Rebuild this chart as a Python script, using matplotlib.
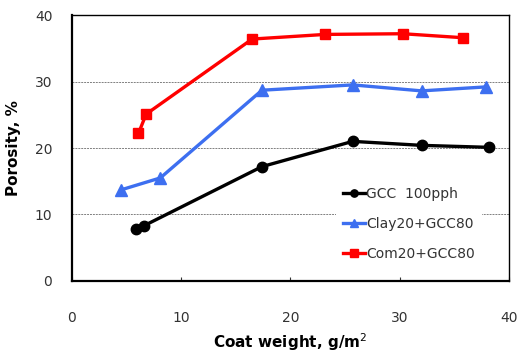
import matplotlib
matplotlib.use("Agg")
from matplotlib import pyplot as plt

# data
gcc_x = [5.9, 6.6, 17.4, 25.7, 32.0, 38.2]
gcc_y = [7.8, 8.3, 17.2, 21.0, 20.4, 20.1]

clay_x = [4.5, 8.1, 17.4, 25.7, 32.0, 37.9]
clay_y = [13.7, 15.5, 28.7, 29.5, 28.6, 29.2]

com_x = [6.1, 6.8, 16.5, 23.2, 30.3, 35.8]
com_y = [22.2, 25.1, 36.4, 37.1, 37.2, 36.6]

x_ticks = [0, 10, 20, 30, 40]
y_ticks = [0, 10, 20, 30, 40]

plt.rcParams['font.family'] = ['DejaVu Sans']

fig = plt.figure(figsize=(5.28, 3.52), dpi=100)
ax = fig.add_axes([0.136, 0.202, 0.828, 0.755])

ax.plot(gcc_x, gcc_y, color="black", marker="o", markersize=7.5, linewidth=2.4,
        label="GCC  100pph", zorder=3)
ax.plot(clay_x, clay_y, color="#3d6ff0", marker="^", markersize=8.5, linewidth=2.4,
        label="Clay20+GCC80", zorder=3)
ax.plot(com_x, com_y, color="#ff0000", marker="s", markersize=7.5, linewidth=2.4,
        label="Com20+GCC80", zorder=3)

ax.set_xlim(0, 40)
ax.set_ylim(0, 40)
ax.set_xticks(x_ticks)
ax.set_yticks(y_ticks)
ax.yaxis.grid(True, color="gray", linestyle=(0, (2, 1)), linewidth=0.7)

ax.tick_params(axis="x", direction="in", length=3, pad=22, labelsize=10, colors="#333333")
ax.tick_params(axis="y", length=0, pad=14, labelsize=10, colors="#333333")
for s in ax.spines.values():
    s.set_linewidth(1.0)
ax.spines['left'].set_linewidth(1.6)
ax.spines['bottom'].set_linewidth(1.6)

ax.set_xlabel("Coat weight, g/m$^2$", fontsize=11, fontweight="bold", labelpad=4)
ax.set_ylabel("Porosity, %", fontsize=11, fontweight="bold", labelpad=10)

leg = ax.legend(loc="lower right", bbox_to_anchor=(0.945, 0.04), frameon=True,
                edgecolor="none", facecolor="white", framealpha=1.0,
                fontsize=10, handlelength=1.6, handletextpad=0.1,
                labelspacing=1.15, borderpad=0.5, markerscale=0.7,
                borderaxespad=0.2)
for t in leg.get_texts():
    t.set_color("#333333")

fig.savefig("out.png", dpi=100)
